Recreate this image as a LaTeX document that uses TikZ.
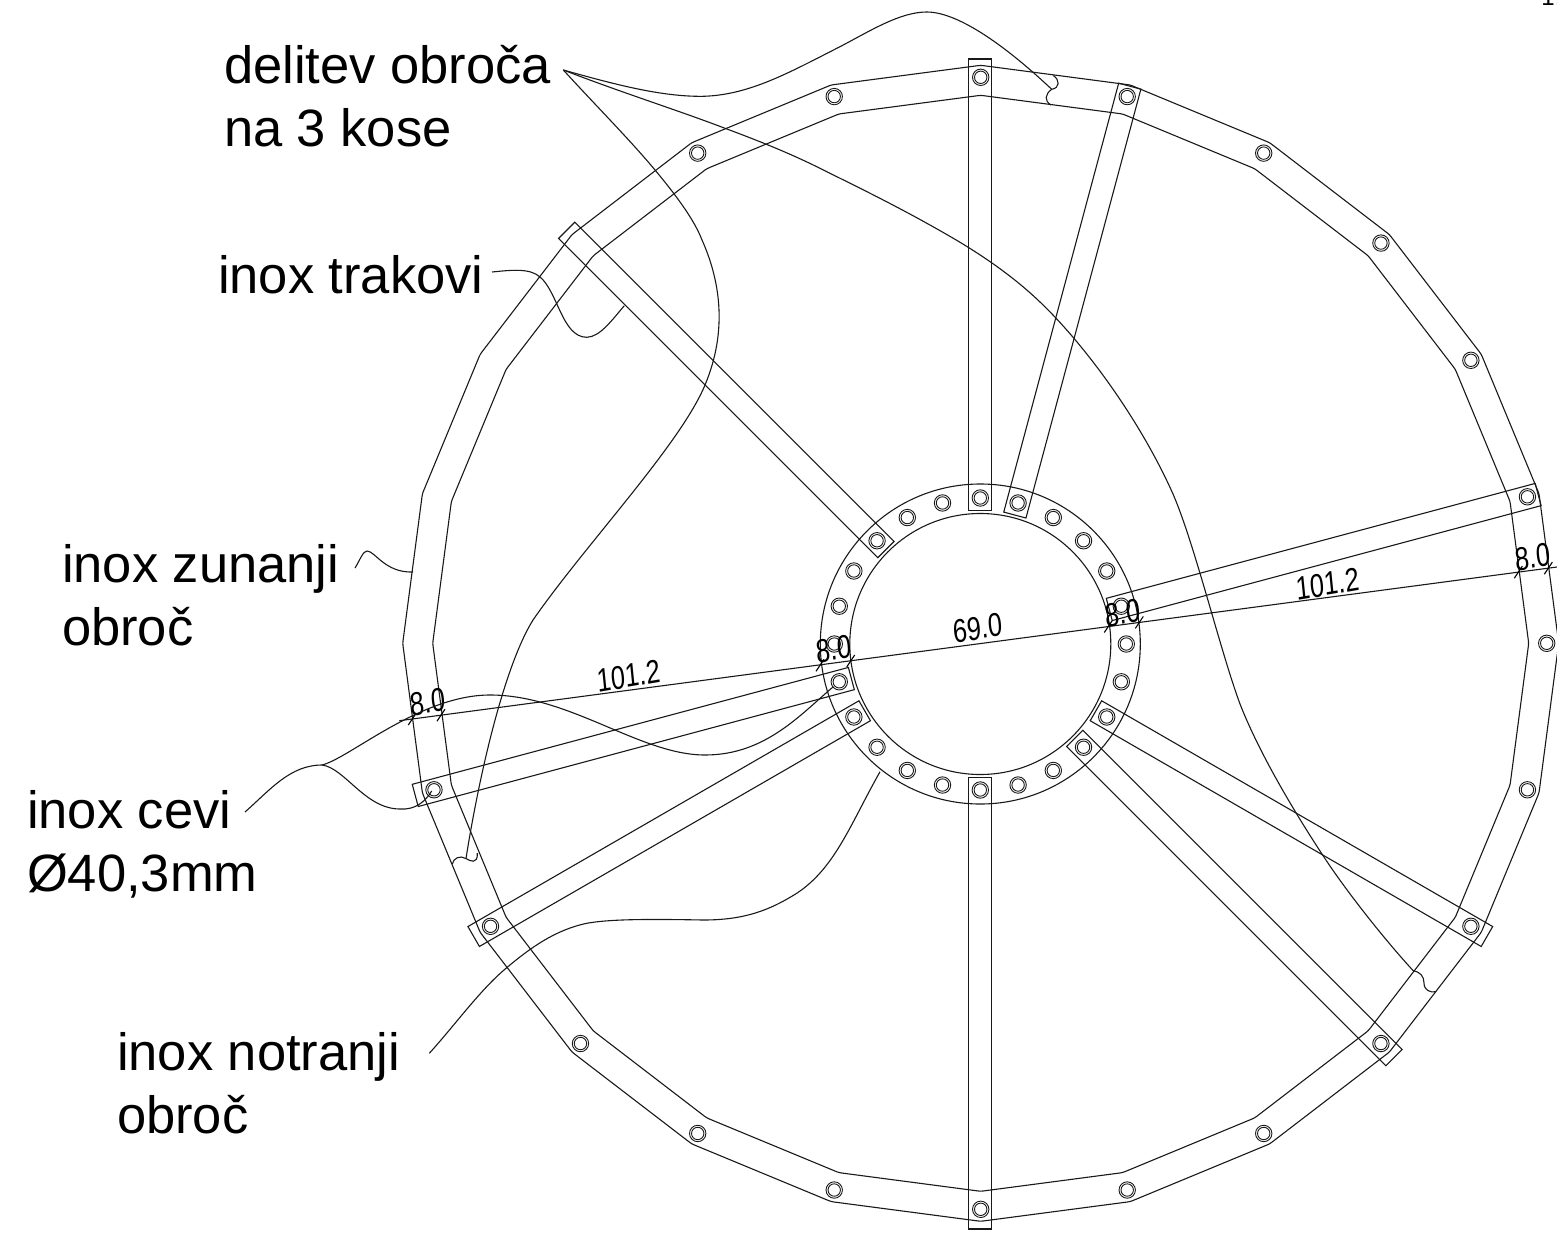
\documentclass[tikz,border=0pt]{standalone}
\usepackage{fontspec}
\setmainfont{Liberation Sans}
\tikzset{
  ln/.style={line width=0.55pt,draw=black!90},
  bolt/.style={line width=0.45pt,draw=black!90},
  lbl/.style={inner sep=0pt,outer sep=0pt,anchor=north west,align=left,font=\fontsize{26.25}{31.5}\selectfont},
  dim/.style={inner sep=0pt,outer sep=0pt,font=\fontsize{16.5}{16.5}\selectfont,xscale=.77,rotate=7.5},
  tick/.style={line width=0.55pt,draw=black}
}
\begin{document}
\begin{tikzpicture}[x=0.5pt,y=-0.5pt]
\useasboundingbox (0,0) rectangle (1557,1236);
% outer ring and hub
\begin{scope}[shift={(980.7,643.3)},y=0.5pt]
  \foreach \r in {548,578}{
    \draw[ln,rounded corners=1.2pt] (0:\r) \foreach \a in {15,30,...,345}{ -- (\a:\r) } -- cycle;
  }
  \foreach \a in {0,15,30,45,60,75,90,105,120,195,210,225,240,255,270,285,300,315,330,345}{
    \draw[bolt] (\a:566) circle[radius=8.2] (\a:566) circle[radius=6.2];
  }
\end{scope}
\begin{scope}[shift={(980.3,644)},y=0.5pt]
  \draw[ln] (0,0) circle[radius=130.5] (0,0) circle[radius=160];
  \foreach \a in {0,15,...,345}{
    \draw[bolt] (\a:146) circle[radius=8.2] (\a:146) circle[radius=6.2];
  }
  \foreach \a/\e in {90/585,75/577.5,15/577.5,135/585,-30/585,-45/585,-90/585,210/585,195/585}{
    \draw[ln,rotate=\a] (133.5,-11.5) rectangle (\e,11.5);
  }
\end{scope}
% ring partition marks
\coordinate (b1) at (1051.7,89.3);
\coordinate (b2) at (466,858.5);
\coordinate (b3) at (1413,970.5);
\draw[ln] (1053.3,75.5) .. controls (1060,80) and (1060,88) .. (b1) .. controls (1045,94) and (1044,101) .. (1051,105);
\draw[ln] (452.3,864) .. controls (453.5,858) and (460,855) .. (b2) .. controls (470,861) and (478,865) .. (477.3,853);
\draw[ln] (b3) .. controls (1420,972) and (1424,976) .. (1424,983) .. controls (1424,990) and (1430,993) .. (1436,991.7);
% dimension line
\coordinate (d0) at (399.3,720.7);
\coordinate (d9) at (1557,567);
\draw[ln] (d0) -- (d9);
\foreach \x/\y in {412.3/719,441/715.2,820/665.3,850.7/661,1108.3/626.5,1139.3/622.4,1518.3/572.2,1548.3/568.2}{
  \draw[tick] (\x,\y) ++(-4,6) -- ++(8,-12);
}
\node[dim] (d1) at (427.5,702) {8.0};
\node[dim] (d2) at (629,676) {101.2};
\node[dim] (d3) at (833.5,649) {8.0};
\node[dim] (d4) at (978,628) {69.0};
\node[dim] (d5) at (1123,613) {8.0};
\node[dim] (d6) at (1328,584) {101.2};
\node[dim] (d7) at (1533,557) {8.0};
% labels
\node[lbl] (l1) at (224,45) {delitev obroča\\na 3 kose};
\node[lbl] (l2) at (218,255) {inox trakovi};
\node[lbl] (l3) at (62,544) {inox zunanji\\obroč};
\node[lbl] (l4) at (27,790) {inox cevi\\Ø40,3mm};
\node[lbl] (l5) at (117,1032) {inox notranji\\obroč};
\node[inner sep=0pt,anchor=base west,font=\fontsize{12}{12}\selectfont] (corner) at (1541,6) {1.};
% leaders
\coordinate (s1) at (563.3,70);
\coordinate (s2) at (492,272);
\coordinate (s3) at (355,568);
\coordinate (s4) at (245,812);
\coordinate (j4) at (322,765);
\coordinate (s5) at (429.3,1053.3);
\draw[ln] (s1) .. controls (610,83) and (660,97) .. (703.3,96.3) .. controls (750,95) and (790,72) .. (840,46.7) .. controls (870,31) and (900,12) .. (926.7,12) .. controls (960,12) and (1010,50) .. (b1);
\draw[ln] (s1) .. controls (600,110) and (630,140) .. (655,170) .. controls (680,200) and (695,222) .. (701.7,239.3) .. controls (720,280) and (728,330) .. (705,385) .. controls (680,445) and (585,545) .. (533,620) .. controls (505,665) and (480,770) .. (b2);
\draw[ln] (s1) .. controls (620,92) and (680,111) .. (725,128.3) .. controls (770,145) and (800,158) .. (826.7,171.7) .. controls (870,193) and (910,213) .. (955,239.3) .. controls (985,257) and (1015,278) .. (1040,302) .. controls (1085,345) and (1140,420) .. (1173,494) .. controls (1195,545) and (1220,650) .. (1240,704) .. controls (1258,750) and (1290,805) .. (1320,851) .. controls (1345,890) and (1385,940) .. (b3);
\draw[ln] (s2) .. controls (512,270) and (530,268) .. (540,277) .. controls (558,292) and (562,337) .. (586.7,337.3) .. controls (600,337) and (612,320) .. (624.3,305.7);
\draw[ln] (s3) .. controls (360,560) and (363,551) .. (367,551) .. controls (375,551) and (385,573) .. (413,572);
\draw[ln] (s4) .. controls (270,790) and (290,765) .. (j4) .. controls (350,758) and (420,695) .. (490,695) .. controls (570,695) and (640,755) .. (705,755) .. controls (765,755) and (800,715) .. (833.3,686.7);
\draw[ln] (j4) .. controls (345,768) and (365,809) .. (400,809) .. controls (415,810) and (425,802) .. (431.7,791);
\draw[ln] (s5) .. controls (455,1025) and (480,990) .. (506,968.3) .. controls (530,948) and (555,930) .. (586.7,923.3) .. controls (610,919) and (650,919) .. (703.3,920) .. controls (745,920) and (770,910) .. (796.7,893.3) .. controls (835,868) and (850,825) .. (880,771.7);
\end{tikzpicture}
\end{document}
